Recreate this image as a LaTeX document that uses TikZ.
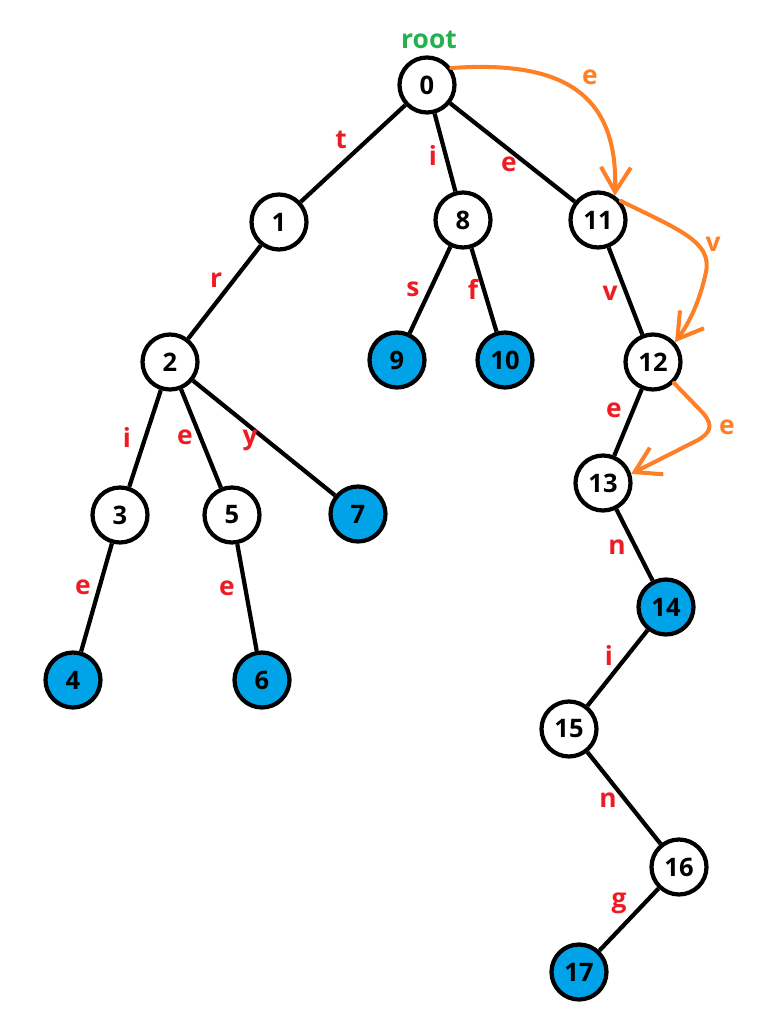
\documentclass[tikz,border=0pt]{standalone}
\usepackage{fontspec}
\setmainfont{Open Sans}
\usetikzlibrary{arrows.meta}
\definecolor{nblue}{RGB}{0,162,232}
\definecolor{lred}{RGB}{237,28,36}
\definecolor{rgreen}{RGB}{34,177,76}
\definecolor{orng}{RGB}{255,127,39}
\begin{document}
\begin{tikzpicture}[x=0.02cm,y=-0.02cm,
  nd/.style={circle,draw=black,fill=white,line width=2.4pt,minimum size=1.1cm,inner sep=0pt,
    font=\fontsize{14.5}{14.5}\selectfont\bfseries},
  leaf/.style={nd,fill=nblue},
  edge/.style={line width=2.4pt},
  lbl/.style={text=lred,font=\fontsize{15}{15}\selectfont\bfseries,inner sep=0pt},
  olbl/.style={text=orng,font=\fontsize{15}{15}\selectfont\bfseries,inner sep=0pt},
  orr/.style={draw=orng,line width=2.3pt,line cap=round,line join=round,
    -{Straight Barb[length=14pt,width=17pt,line width=2.3pt]}}]
\useasboundingbox (0,0) rectangle (770,1030);
% nodes
\node[nd] (n0) at (427,85) {0};
\node[nd] (n1) at (279,222) {1};
\node[nd] (n8) at (463,220) {8};
\node[nd] (n11) at (598,220) {11};
\node[nd] (n2) at (170,362) {2};
\node[leaf] (n9) at (397,360) {9};
\node[leaf] (n10) at (505,360) {10};
\node[nd] (n12) at (653,362) {12};
\node[nd] (n3) at (120,515) {3};
\node[nd] (n5) at (232,515) {5};
\node[leaf] (n7) at (358,514) {7};
\node[nd] (n13) at (603,483) {13};
\node[leaf] (n4) at (73,680) {4};
\node[leaf] (n6) at (262,680) {6};
\node[leaf] (n14) at (666,607) {14};
\node[nd] (n15) at (569,729) {15};
\node[nd] (n16) at (679,867) {16};
\node[leaf] (n17) at (579,972) {17};
\node[text=rgreen,font=\fontsize{15}{15}\selectfont\bfseries,inner sep=0pt] (root) at (429,40) {root};
% edges
\draw[edge] (n0) -- (n1);
\draw[edge] (n0) -- (n8);
\draw[edge] (n0) -- (n11);
\draw[edge] (n1) -- (n2);
\draw[edge] (n8) -- (n9);
\draw[edge] (n8) -- (n10);
\draw[edge] (n11) -- (n12);
\draw[edge] (n2) -- (n3);
\draw[edge] (n2) -- (n5);
\draw[edge] (n2) -- (n7);
\draw[edge] (n3) -- (n4);
\draw[edge] (n5) -- (n6);
\draw[edge] (n12) -- (n13);
\draw[edge] (n13) -- (n14);
\draw[edge] (n14) -- (n15);
\draw[edge] (n15) -- (n16);
\draw[edge] (n16) -- (n17);
% edge labels
\node[lbl] (lt) at (341,140) {t};
\node[lbl] (li1) at (433,155) {i};
\node[lbl] (le1) at (509,164) {e};
\node[lbl] (lr) at (216,280) {r};
\node[lbl] (ls) at (413,289) {s};
\node[lbl] (lf) at (473,289) {f};
\node[lbl] (lv) at (610,293) {v};
\node[lbl] (li2) at (127,437) {i};
\node[lbl] (le2) at (185,437) {e};
\node[lbl] (ly) at (250,440) {y};
\node[lbl] (le3) at (614,410) {e};
\node[lbl] (le4) at (83,587) {e};
\node[lbl] (le5) at (227,588) {e};
\node[lbl] (ln1) at (617,547) {n};
\node[lbl] (li3) at (609,655) {i};
\node[lbl] (ln2) at (608,800) {n};
\node[lbl] (lg) at (619,903) {g};
% orange suffix links
\draw[orr] (n0.35) .. controls (565,60) and (618,95) .. (n11.55);
\draw[orr] (n11.40) .. controls (680,230) and (712,242) .. (706,272) .. controls (700,300) and (690,322) .. (n12.42);
\draw[orr] (n12.-45) -- (703,413) .. controls (714,426) and (710,433) .. (698,440) -- (n13.18);
\node[olbl] (oe1) at (590,77) {e};
\node[olbl] (ov) at (713,244) {v};
\node[olbl] (oe2) at (727,427) {e};
\end{tikzpicture}
\end{document}
